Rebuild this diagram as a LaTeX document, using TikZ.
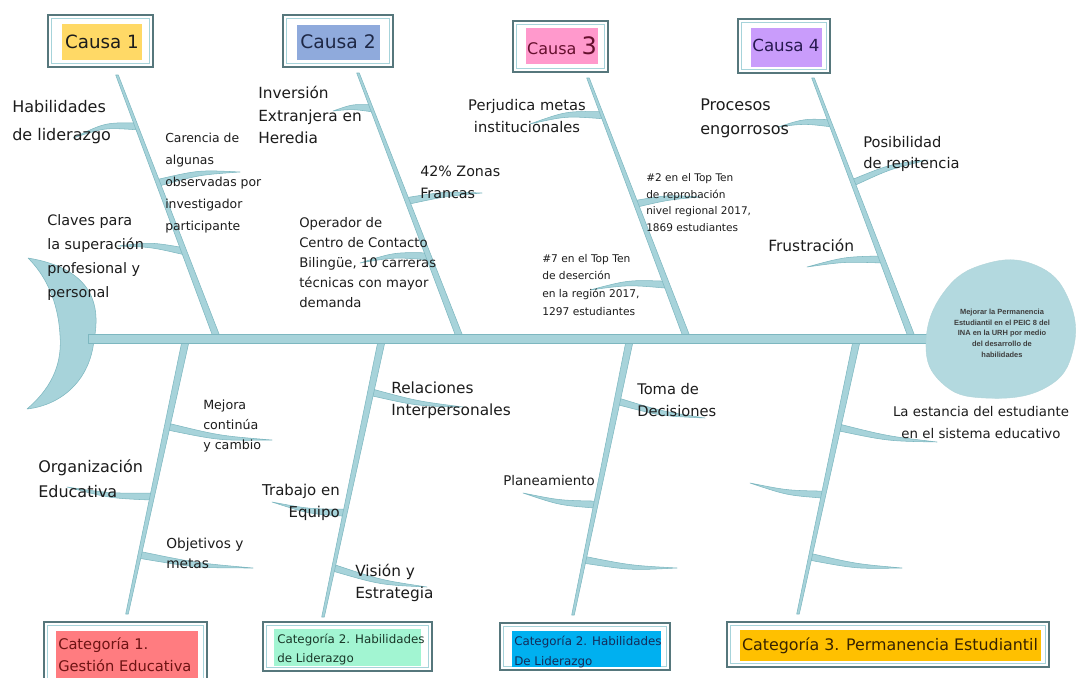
\documentclass[tikz,border=0pt]{standalone}
\usepackage{fontspec}
\setmainfont{DejaVu Sans}
\newfontfamily\headfont{Liberation Sans}
\usetikzlibrary{calc}

\definecolor{bonefill}{HTML}{A7D3DA}
\definecolor{boneedge}{HTML}{7DB7C0}
\definecolor{headfill}{HTML}{B3D9DF}
\definecolor{frameout}{HTML}{56777C}
\definecolor{framein}{HTML}{A6D3DA}
\definecolor{ink}{HTML}{1C1C1C}
\definecolor{hlcausaA}{HTML}{FFD966}
\definecolor{hlcausaB}{HTML}{8FAADC}
\definecolor{hlcausaC}{HTML}{FF99CC}
\definecolor{hlcausaD}{HTML}{C99CFB}
\definecolor{hlcatA}{HTML}{FF7C80}
\definecolor{hlcatB}{HTML}{A2F5D2}
\definecolor{hlcatC}{HTML}{00B0F0}
\definecolor{hlcatD}{HTML}{FFC000}

\newcommand\fs[2]{\fontsize{#1}{#2}\selectfont}

% tapered, slightly curved rib: #1 root (on a bone), #2 tip, #3 half width, #4 bow
\newcommand\twig[4]{%
  \path[ribshape] ($(#1)+(0,-#3)$)
    .. controls ($(#1)!0.5!(#2)+(0,{#4-#3*0.7})$) .. (#2)
    .. controls ($(#1)!0.5!(#2)+(0,{#4+#3*0.7})$) .. ($(#1)+(0,#3)$) -- cycle;}
% straight bone, thin at #1, thick at #2
\newcommand\bone[2]{%
  \path[ribshape] ($(#1)+(-1.3,0)$) -- ($(#1)+(1.3,0)$) -- ($(#2)+(3.6,0)$) -- ($(#2)+(-3.6,0)$) -- cycle;}

\tikzset{
  ribshape/.style={fill=bonefill, draw=boneedge, line width=0.4pt, line join=round},
  lbl/.style={inner sep=0pt, anchor=north west, align=left, text=ink},
  frameo/.style={draw=frameout, line width=1.1pt, fill=white},
  framei/.style={draw=framein, line width=1.1pt},
}

\begin{document}
\begin{tikzpicture}[x=0.75pt, y=-0.75pt]
\useasboundingbox (0,0) rectangle (1076,678);
\fill[white] (0,0) rectangle (1076,678);
\clip (0,0) rectangle (1076,678);

% ---------- upper bones ----------
\coordinate (T1) at (117,75);  \coordinate (S1) at (217,338);
\coordinate (T2) at (358,73);  \coordinate (S2) at (460,338);
\coordinate (T3) at (588,78);  \coordinate (S3) at (687,338);
\coordinate (T4) at (813,78);  \coordinate (S4) at (912,338);

\coordinate (r1a) at ($(T1)!0.195!(S1)$);
\coordinate (r1b) at ($(T1)!0.41!(S1)$);
\coordinate (r1c) at ($(T1)!0.67!(S1)$);
\coordinate (r2a) at ($(T2)!0.133!(S2)$);
\coordinate (r2b) at ($(T2)!0.483!(S2)$);
\coordinate (r2c) at ($(T2)!0.692!(S2)$);
\coordinate (r3a) at ($(T3)!0.143!(S3)$);
\coordinate (r3b) at ($(T3)!0.484!(S3)$);
\coordinate (r3c) at ($(T3)!0.795!(S3)$);
\coordinate (r4a) at ($(T4)!0.174!(S4)$);
\coordinate (r4b) at ($(T4)!0.403!(S4)$);
\coordinate (r4c) at ($(T4)!0.698!(S4)$);

\twig{r1a}{73,138}{3.5}{-7}
\twig{r1b}{240,172}{3.5}{-5}
\twig{r1c}{118,246}{3.5}{-4}
\twig{r2a}{333,111}{3.5}{-3}
\twig{r2b}{482,193}{3.5}{-3}
\twig{r2c}{360,263}{3.5}{-5}
\twig{r3a}{530,124}{3.5}{-6}
\twig{r3b}{700,197}{3.5}{-3}
\twig{r3c}{590,290}{3.5}{-5}
\twig{r4a}{778,127}{3.5}{-4}
\twig{r4b}{928,160}{3.5}{-5}
\twig{r4c}{807,267}{3.5}{-4}

\bone{T1}{S1}
\bone{T2}{S2}
\bone{T3}{S3}
\bone{T4}{S4}

% ---------- lower bones ----------
\coordinate (U1) at (186,339);  \coordinate (V1) at (127,614);
\coordinate (U2) at (382,339);  \coordinate (V2) at (323,617);
\coordinate (U3) at (630,339);  \coordinate (V3) at (573,615);
\coordinate (U4) at (857,339);  \coordinate (V4) at (798,614);

\coordinate (q1a) at ($(U1)!0.318!(V1)$);
\coordinate (q1b) at ($(U1)!0.573!(V1)$);
\coordinate (q1c) at ($(U1)!0.785!(V1)$);
\coordinate (q2a) at ($(U2)!0.191!(V2)$);
\coordinate (q2b) at ($(U2)!0.625!(V2)$);
\coordinate (q2c) at ($(U2)!0.823!(V2)$);
\coordinate (q3a) at ($(U3)!0.225!(V3)$);
\coordinate (q3b) at ($(U3)!0.6!(V3)$);
\coordinate (q3c) at ($(U3)!0.8!(V3)$);
\coordinate (q4a) at ($(U4)!0.321!(V4)$);
\coordinate (q4b) at ($(U4)!0.566!(V4)$);
\coordinate (q4c) at ($(U4)!0.792!(V4)$);

\twig{q1a}{272,440}{3.5}{5}
\twig{q1b}{67,487}{3.5}{4}
\twig{q1c}{253,568}{3.5}{4}
\twig{q2a}{463,407}{3.5}{4}
\twig{q2b}{272,502}{3.5}{4}
\twig{q2c}{427,587}{3.5}{5}
\twig{q3a}{705,418}{3.5}{4}
\twig{q3b}{523,493}{3.5}{4}
\twig{q3c}{677,568}{3.5}{4}
\twig{q4a}{937,442}{3.5}{4}
\twig{q4b}{750,483}{3.5}{4}
\twig{q4c}{902,568}{3.5}{4}

\bone{V1}{U1}
\bone{V2}{U2}
\bone{V3}{U3}
\bone{V4}{U4}

% ---------- tail ----------
\path[ribshape] (28,258) .. controls (88,268) and (102,300) .. (94,340)
  .. controls (90,380) and (62,405) .. (27,409)
  .. controls (55,385) and (62,360) .. (60,335)
  .. controls (58,300) and (45,275) .. (28,258) -- cycle;

% ---------- spine ----------
\path[ribshape] (88,334) rectangle (935,343);

% ---------- head ----------
\fill[headfill, draw=boneedge!60, line width=0.3pt] plot[smooth cycle, tension=0.75] coordinates
  {(926,343) (944,292) (985,264) (1035,265) (1068,298) (1073,350) (1045,388) (985,398) (942,383)};
\node[font=\headfont\bfseries\fs{5.6}{8}, align=center, text=ink!85] (effect) at (1002,333)
  {Mejorar la Permanencia\\Estudiantil en el PEIC 8 del\\INA en la URH por medio\\del desarrollo de\\habilidades};

% ---------- cause boxes ----------
\draw[frameo] (48,15) rectangle (153,67);  \draw[framei] (51.5,18.5) rectangle (149.5,63.5);
\fill[hlcausaA] (62,24) rectangle (142,60);
\node[font=\fs{13.7}{16}, text=ink] (causa1) at (102,42) {Causa 1};

\draw[frameo] (283,15) rectangle (393,67); \draw[framei] (286.5,18.5) rectangle (389.5,63.5);
\fill[hlcausaB] (297,25) rectangle (380,60);
\node[font=\fs{14}{16}, text={rgb,255:red,30;green,40;blue,70}] (causa2) at (338,42) {Causa 2};

\draw[frameo] (513,21) rectangle (608,72); \draw[framei] (516.5,24.5) rectangle (604.5,68.5);
\fill[hlcausaC] (526,28) rectangle (598,64);
\node[font=\fs{12}{16}, text={rgb,255:red,100;green,15;blue,45}] (causa3) at (562,46) {Causa {\fs{18}{18}3}};

\draw[frameo] (738,19) rectangle (830,73); \draw[framei] (741.5,22.5) rectangle (826.5,69.5);
\fill[hlcausaD] (751,28) rectangle (822,67);
\node[font=\fs{12.5}{16}, text={rgb,255:red,40;green,25;blue,80}] (causa4) at (786,45) {Causa 4};

% ---------- category boxes ----------
\draw[frameo] (44,622) rectangle (207,700); \draw[framei] (47.5,625.5) rectangle (203.5,700);
\fill[hlcatA] (56,631) rectangle (198,700);
\node[lbl, font=\fs{11}{16.5}, text={rgb,255:red,110;green,20;blue,20}] (cat1) at (58,637) {Categoría 1.\\Gestión Educativa};

\draw[frameo] (263,622) rectangle (432,671); \draw[framei] (266.5,625.5) rectangle (428.5,667.5);
\fill[hlcatB] (274,629) rectangle (421,666);
\node[lbl, font=\fs{8.9}{14.2}, text={rgb,255:red,25;green,55;blue,40}] (cat2) at (277,634) {Categoría 2. Habilidades\\de Liderazgo};

\draw[frameo] (500,623) rectangle (670,670); \draw[framei] (503.5,626.5) rectangle (666.5,666.5);
\fill[hlcatC] (512,631) rectangle (661,667);
\node[lbl, font=\fs{8.9}{14.5}, text={rgb,255:red,20;green,45;blue,90}] (cat2b) at (514,636) {Categoría 2. Habilidades\\De Liderazgo};

\draw[frameo] (727,622) rectangle (1049,667); \draw[framei] (730.5,625.5) rectangle (1045.5,663.5);
\fill[hlcatD] (740,630) rectangle (1041,661);
\node[font=\fs{11.9}{16}, text={rgb,255:red,55;green,35;blue,0}] (cat3) at (890,646) {Categoría 3. Permanencia Estudiantil};

% ---------- upper labels ----------
\node[lbl, font=\fs{12}{21}] (habil) at (12,100) {Habilidades\\de liderazgo};
\node[lbl, font=\fs{9.3}{16.4}] (carencia) at (165,133) {Carencia de\\algunas\\observadas por\\investigador\\participante};
\node[lbl, font=\fs{10.8}{18}] (claves) at (47,214) {Claves para\\la superación\\profesional y\\personal};
\node[lbl, font=\fs{11.5}{17}] (inversion) at (258,86) {Inversión\\Extranjera en\\Heredia};
\node[lbl, font=\fs{10.7}{16.5}] (zonas) at (420,166) {42\% Zonas\\Francas};
\node[lbl, font=\fs{9.9}{15}] (operador) at (299,217) {Operador de\\Centro de Contacto\\Bilingüe, 10 carreras\\técnicas con mayor\\demanda};
\node[inner sep=0pt, anchor=north, align=center, text=ink, font=\fs{11}{16.5}] (perjudica) at (527,99) {Perjudica metas\\institucionales};
\node[lbl, font=\fs{7.9}{12.6}] (top2) at (646,173) {\#2 en el Top Ten\\de reprobación\\nivel regional 2017,\\1869 estudiantes};
\node[lbl, font=\fs{8}{13.2}] (top7) at (542,254) {\#7 en el Top Ten\\de deserción\\en la región 2017,\\1297 estudiantes};
\node[lbl, font=\fs{12}{18}] (procesos) at (700,99) {Procesos\\engorrosos};
\node[lbl, font=\fs{11}{16}] (posib) at (863,136) {Posibilidad\\de repitencia};
\node[lbl, font=\fs{11.6}{16}] (frustr) at (768,239) {Frustración};

% ---------- lower labels ----------
\node[lbl, font=\fs{9.5}{15}] (mejora) at (203,400) {Mejora\\continúa\\y cambio};
\node[lbl, font=\fs{12}{19}] (organiz) at (38,459) {Organización\\Educativa};
\node[lbl, font=\fs{10.3}{15}] (objet) at (166,538) {Objetivos y\\metas};
\node[lbl, font=\fs{11.5}{16.5}] (relac) at (391,382) {Relaciones\\Interpersonales};
\node[inner sep=0pt, anchor=north east, align=right, text=ink, font=\fs{11.2}{16.5}] (trabajo) at (340,484) {Trabajo en\\Equipo};
\node[lbl, font=\fs{11.5}{16.5}] (vision) at (355,564) {Visión y\\Estrategia};
\node[lbl, font=\fs{11}{16.5}] (toma) at (637,383) {Toma de\\Decisiones};
\node[lbl, font=\fs{10}{15}] (planea) at (503,475) {Planeamiento};
\node[inner sep=0pt, anchor=north, align=center, text=ink, font=\fs{10}{16.5}] (estancia) at (981,406) {La estancia del estudiante\\en el sistema educativo};

\end{tikzpicture}
\end{document}
